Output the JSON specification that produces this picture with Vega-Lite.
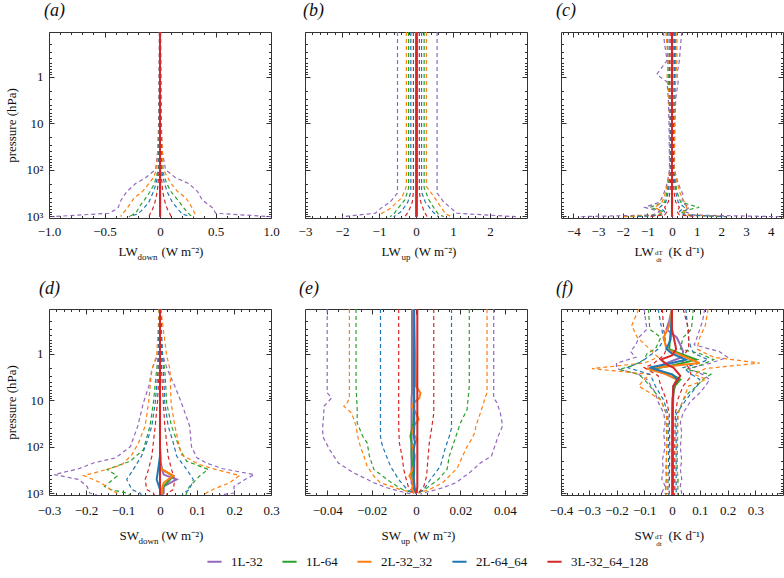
{
"$schema":"https://vega.github.io/schema/vega-lite/v6.json",
"padding":{"left":4,"top":1,"right":2,"bottom":2},
"config":{
 "font":"Liberation Serif",
 "view":{"stroke":"#333","strokeWidth":1},
 "axis":{"grid":false,"domain":false,"labelFont":"Liberation Serif","titleFont":"Liberation Serif","labelFontSize":13,"titleFontSize":13,"titleFontWeight":"normal","labelColor":"#111","titleColor":"#111","tickColor":"#333","tickWidth":1,"labelOverlap":false,"labelFlush":false,"titlePadding":0},
 "range":{"category":["#9467bd","#2ca02c","#ff7f0e","#1f77b4","#d62728"]},
 "legend":{"orient":"none","legendX":157,"legendY":521,"direction":"horizontal","symbolType":"stroke","symbolStrokeWidth":2,"symbolSize":200,"symbolDash":[],"labelFont":"Liberation Serif","labelFontSize":13,"labelColor":"#111","columnPadding":15,"labelOffset":8}
},
"datasets":{
"a":[
{"m":"1L-32","p":0.11,"l":-0.006,"u":0,"h":0.006},{"m":"1L-32","p":1,"l":-0.008,"u":0,"h":0.008},{"m":"1L-32","p":10,"l":-0.012,"u":0,"h":0.012},{"m":"1L-32","p":40,"l":-0.02,"u":0,"h":0.02},{"m":"1L-32","p":100,"l":-0.04,"u":0.002,"h":0.05},{"m":"1L-32","p":150,"l":-0.13,"u":0.002,"h":0.14},{"m":"1L-32","p":200,"l":-0.22,"u":0.002,"h":0.26},{"m":"1L-32","p":300,"l":-0.3,"u":0.002,"h":0.34},{"m":"1L-32","p":450,"l":-0.35,"u":0.002,"h":0.38},{"m":"1L-32","p":680,"l":-0.38,"u":0.002,"h":0.48},{"m":"1L-32","p":870,"l":-0.46,"u":0.002,"h":0.5},{"m":"1L-32","p":1030,"l":-0.97,"u":0.002,"h":1.0},
{"m":"1L-64","p":0.11,"l":-0.003,"u":0,"h":0.003},{"m":"1L-64","p":10,"l":-0.006,"u":0,"h":0.006},{"m":"1L-64","p":100,"l":-0.015,"u":0,"h":0.02},{"m":"1L-64","p":200,"l":-0.05,"u":0,"h":0.06},{"m":"1L-64","p":300,"l":-0.09,"u":0,"h":0.1},{"m":"1L-64","p":450,"l":-0.14,"u":0,"h":0.16},{"m":"1L-64","p":600,"l":-0.18,"u":0,"h":0.2},{"m":"1L-64","p":800,"l":-0.21,"u":0,"h":0.24},{"m":"1L-64","p":950,"l":-0.25,"u":0,"h":0.27},{"m":"1L-64","p":1030,"l":-0.28,"u":0,"h":0.3},
{"m":"2L-32_32","p":0.11,"l":-0.004,"u":0,"h":0.004},{"m":"2L-32_32","p":10,"l":-0.008,"u":0,"h":0.008},{"m":"2L-32_32","p":100,"l":-0.03,"u":0,"h":0.03},{"m":"2L-32_32","p":150,"l":-0.06,"u":0,"h":0.07},{"m":"2L-32_32","p":200,"l":-0.1,"u":0,"h":0.1},{"m":"2L-32_32","p":300,"l":-0.16,"u":0,"h":0.16},{"m":"2L-32_32","p":400,"l":-0.23,"u":0,"h":0.23},{"m":"2L-32_32","p":550,"l":-0.27,"u":0,"h":0.27},{"m":"2L-32_32","p":750,"l":-0.31,"u":0,"h":0.3},{"m":"2L-32_32","p":950,"l":-0.35,"u":0,"h":0.32},{"m":"2L-32_32","p":1030,"l":-0.35,"u":0,"h":0.3},
{"m":"2L-64_64","p":0.11,"l":-0.002,"u":0,"h":0.002},{"m":"2L-64_64","p":100,"l":-0.01,"u":0,"h":0.012},{"m":"2L-64_64","p":200,"l":-0.035,"u":0,"h":0.04},{"m":"2L-64_64","p":300,"l":-0.06,"u":0,"h":0.065},{"m":"2L-64_64","p":500,"l":-0.1,"u":0,"h":0.11},{"m":"2L-64_64","p":700,"l":-0.15,"u":0,"h":0.16},{"m":"2L-64_64","p":900,"l":-0.2,"u":0,"h":0.2},{"m":"2L-64_64","p":1030,"l":-0.28,"u":0,"h":0.27},
{"m":"3L-32_64_128","p":0.11,"l":-0.001,"u":0,"h":0.001},{"m":"3L-32_64_128","p":100,"l":-0.006,"u":0,"h":0.006},{"m":"3L-32_64_128","p":300,"l":-0.025,"u":0,"h":0.025},{"m":"3L-32_64_128","p":500,"l":-0.045,"u":0,"h":0.045},{"m":"3L-32_64_128","p":700,"l":-0.065,"u":0,"h":0.065},{"m":"3L-32_64_128","p":900,"l":-0.09,"u":0,"h":0.09},{"m":"3L-32_64_128","p":1030,"l":-0.1,"u":0,"h":0.1}
],
"b":[
{"m":"1L-32","p":0.11,"l":-0.5,"u":0,"h":0.57},{"m":"1L-32","p":320,"l":-0.5,"u":0,"h":0.57},{"m":"1L-32","p":500,"l":-0.7,"u":0,"h":0.75},{"m":"1L-32","p":700,"l":-0.97,"u":0,"h":0.97},{"m":"1L-32","p":870,"l":-1.1,"u":0,"h":1.1},{"m":"1L-32","p":1030,"l":-2.0,"u":0,"h":2.7},
{"m":"1L-64","p":0.11,"l":-0.2,"u":0.01,"h":0.22},{"m":"1L-64","p":250,"l":-0.2,"u":0.01,"h":0.22},{"m":"1L-64","p":450,"l":-0.3,"u":0.01,"h":0.35},{"m":"1L-64","p":700,"l":-0.5,"u":0.01,"h":0.5},{"m":"1L-64","p":900,"l":-0.6,"u":0.01,"h":0.6},{"m":"1L-64","p":1030,"l":-0.7,"u":0.01,"h":0.75},
{"m":"2L-32_32","p":0.11,"l":-0.26,"u":0.01,"h":0.28},{"m":"2L-32_32","p":230,"l":-0.26,"u":0.01,"h":0.28},{"m":"2L-32_32","p":400,"l":-0.38,"u":0.01,"h":0.5},{"m":"2L-32_32","p":690,"l":-0.7,"u":0.01,"h":0.7},{"m":"2L-32_32","p":900,"l":-0.95,"u":0.01,"h":0.8},{"m":"2L-32_32","p":1030,"l":-1.0,"u":0.01,"h":0.95},
{"m":"2L-64_64","p":0.11,"l":-0.14,"u":0.01,"h":0.15},{"m":"2L-64_64","p":300,"l":-0.14,"u":0.01,"h":0.15},{"m":"2L-64_64","p":500,"l":-0.22,"u":0.01,"h":0.25},{"m":"2L-64_64","p":800,"l":-0.4,"u":0.01,"h":0.45},{"m":"2L-64_64","p":1030,"l":-0.6,"u":0.01,"h":0.6},
{"m":"3L-32_64_128","p":0.11,"l":-0.07,"u":0.02,"h":0.09},{"m":"3L-32_64_128","p":300,"l":-0.07,"u":0.02,"h":0.09},{"m":"3L-32_64_128","p":500,"l":-0.1,"u":0.02,"h":0.13},{"m":"3L-32_64_128","p":800,"l":-0.2,"u":0.02,"h":0.22},{"m":"3L-32_64_128","p":1030,"l":-0.3,"u":0.02,"h":0.3}
],
"c":[
{"m":"1L-32","p":0.11,"l":-0.35,"u":0,"h":0.4},{"m":"1L-32","p":0.2,"l":-0.3,"u":0,"h":0.35},{"m":"1L-32","p":0.45,"l":-0.2,"u":0.01,"h":0.3},{"m":"1L-32","p":0.9,"l":-0.62,"u":0,"h":0.2},{"m":"1L-32","p":1.3,"l":-0.2,"u":0,"h":0.25},{"m":"1L-32","p":3,"l":-0.15,"u":0,"h":0.15},{"m":"1L-32","p":10,"l":-0.12,"u":0,"h":0.12},{"m":"1L-32","p":100,"l":-0.1,"u":0,"h":0.1},{"m":"1L-32","p":200,"l":-0.2,"u":0,"h":0.25},{"m":"1L-32","p":350,"l":-0.35,"u":0,"h":0.45},{"m":"1L-32","p":500,"l":-0.5,"u":0.01,"h":0.4},{"m":"1L-32","p":650,"l":-1.1,"u":0,"h":0.7},{"m":"1L-32","p":800,"l":-0.5,"u":0,"h":0.5},{"m":"1L-32","p":950,"l":-0.8,"u":0,"h":0.9},{"m":"1L-32","p":1030,"l":-3.8,"u":0,"h":4.3},
{"m":"1L-64","p":0.11,"l":-0.2,"u":0,"h":0.15},{"m":"1L-64","p":1,"l":-0.15,"u":0,"h":0.15},{"m":"1L-64","p":10,"l":-0.08,"u":0,"h":0.08},{"m":"1L-64","p":100,"l":-0.07,"u":0,"h":0.07},{"m":"1L-64","p":300,"l":-0.2,"u":0,"h":0.2},{"m":"1L-64","p":500,"l":-0.3,"u":0,"h":0.35},{"m":"1L-64","p":650,"l":-0.9,"u":0,"h":1.1},{"m":"1L-64","p":800,"l":-0.35,"u":0,"h":0.35},{"m":"1L-64","p":950,"l":-0.5,"u":0,"h":0.6},{"m":"1L-64","p":1030,"l":-1.8,"u":0,"h":2.0},
{"m":"2L-32_32","p":0.11,"l":-0.25,"u":0,"h":0.2},{"m":"2L-32_32","p":0.45,"l":-0.15,"u":0,"h":0.2},{"m":"2L-32_32","p":1,"l":-0.2,"u":0,"h":0.15},{"m":"2L-32_32","p":3,"l":-0.12,"u":0,"h":0.12},{"m":"2L-32_32","p":10,"l":-0.1,"u":0,"h":0.1},{"m":"2L-32_32","p":100,"l":-0.08,"u":0,"h":0.08},{"m":"2L-32_32","p":300,"l":-0.25,"u":0,"h":0.3},{"m":"2L-32_32","p":500,"l":-0.4,"u":0,"h":0.5},{"m":"2L-32_32","p":650,"l":-0.7,"u":0,"h":0.6},{"m":"2L-32_32","p":800,"l":-0.4,"u":0,"h":0.45},{"m":"2L-32_32","p":950,"l":-0.6,"u":0,"h":0.7},{"m":"2L-32_32","p":1030,"l":-2.0,"u":0,"h":2.2},
{"m":"2L-64_64","p":0.11,"l":-0.12,"u":0,"h":0.1},{"m":"2L-64_64","p":1,"l":-0.1,"u":0,"h":0.1},{"m":"2L-64_64","p":10,"l":-0.06,"u":0,"h":0.06},{"m":"2L-64_64","p":100,"l":-0.05,"u":0,"h":0.05},{"m":"2L-64_64","p":300,"l":-0.15,"u":0,"h":0.15},{"m":"2L-64_64","p":500,"l":-0.25,"u":0,"h":0.25},{"m":"2L-64_64","p":650,"l":-0.5,"u":0,"h":0.5},{"m":"2L-64_64","p":800,"l":-0.3,"u":0,"h":0.3},{"m":"2L-64_64","p":950,"l":-0.4,"u":0,"h":0.5},{"m":"2L-64_64","p":1030,"l":-1.5,"u":0,"h":2.2},
{"m":"3L-32_64_128","p":0.11,"l":-0.05,"u":0,"h":0.05},{"m":"3L-32_64_128","p":1,"l":-0.04,"u":0,"h":0.04},{"m":"3L-32_64_128","p":10,"l":-0.03,"u":0,"h":0.03},{"m":"3L-32_64_128","p":100,"l":-0.03,"u":0,"h":0.03},{"m":"3L-32_64_128","p":300,"l":-0.08,"u":0,"h":0.08},{"m":"3L-32_64_128","p":500,"l":-0.15,"u":0,"h":0.15},{"m":"3L-32_64_128","p":650,"l":-0.3,"u":0,"h":0.3},{"m":"3L-32_64_128","p":800,"l":-0.2,"u":0,"h":0.2},{"m":"3L-32_64_128","p":950,"l":-0.3,"u":0,"h":0.3},{"m":"3L-32_64_128","p":1030,"l":-1.0,"u":0.02,"h":1.0}
],
"d":[
{"m":"1L-32","p":0.11,"l":-0.002,"u":0,"h":0.002},{"m":"1L-32","p":0.5,"l":-0.003,"u":0,"h":0.003},{"m":"1L-32","p":1,"l":-0.005,"u":0,"h":0.006},{"m":"1L-32","p":2.2,"l":-0.022,"u":0,"h":0.02},{"m":"1L-32","p":5,"l":-0.03,"u":0,"h":0.04},{"m":"1L-32","p":11.5,"l":-0.045,"u":0,"h":0.058},{"m":"1L-32","p":36,"l":-0.06,"u":0,"h":0.08},{"m":"1L-32","p":100,"l":-0.08,"u":0,"h":0.085},{"m":"1L-32","p":175,"l":-0.12,"u":0.002,"h":0.1},{"m":"1L-32","p":225,"l":-0.18,"u":0.002,"h":0.125},{"m":"1L-32","p":300,"l":-0.22,"u":0.005,"h":0.17},{"m":"1L-32","p":400,"l":-0.286,"u":0.01,"h":0.255},{"m":"1L-32","p":510,"l":-0.22,"u":0.045,"h":0.23},{"m":"1L-32","p":720,"l":-0.197,"u":0.01,"h":0.2},{"m":"1L-32","p":1000,"l":-0.19,"u":0.01,"h":0.2},{"m":"1L-32","p":1100,"l":-0.17,"u":0.005,"h":0.16},
{"m":"1L-64","p":0.11,"l":-0.002,"u":0,"h":0.002},{"m":"1L-64","p":1,"l":-0.004,"u":0,"h":0.005},{"m":"1L-64","p":2.2,"l":-0.009,"u":0,"h":0.013},{"m":"1L-64","p":11.5,"l":-0.018,"u":0,"h":0.018},{"m":"1L-64","p":36,"l":-0.027,"u":0,"h":0.031},{"m":"1L-64","p":116,"l":-0.045,"u":0,"h":0.054},{"m":"1L-64","p":206,"l":-0.08,"u":0,"h":0.072},{"m":"1L-64","p":310,"l":-0.143,"u":0.005,"h":0.13},{"m":"1L-64","p":430,"l":-0.116,"u":0.036,"h":0.107},{"m":"1L-64","p":720,"l":-0.15,"u":0.01,"h":0.08},{"m":"1L-64","p":840,"l":-0.134,"u":0.005,"h":0.075},{"m":"1L-64","p":1000,"l":-0.09,"u":0.005,"h":0.072},{"m":"1L-64","p":1100,"l":-0.08,"u":0,"h":0.07},
{"m":"2L-32_32","p":0.11,"l":-0.002,"u":0,"h":0.002},{"m":"2L-32_32","p":1.1,"l":-0.009,"u":0,"h":0.018},{"m":"2L-32_32","p":2.2,"l":-0.022,"u":0,"h":0.027},{"m":"2L-32_32","p":11.5,"l":-0.031,"u":0,"h":0.03},{"m":"2L-32_32","p":36,"l":-0.04,"u":0,"h":0.04},{"m":"2L-32_32","p":83,"l":-0.058,"u":0,"h":0.05},{"m":"2L-32_32","p":150,"l":-0.076,"u":0,"h":0.058},{"m":"2L-32_32","p":245,"l":-0.103,"u":0,"h":0.107},{"m":"2L-32_32","p":310,"l":-0.143,"u":0.005,"h":0.15},{"m":"2L-32_32","p":420,"l":-0.206,"u":0.036,"h":0.215},{"m":"2L-32_32","p":600,"l":-0.16,"u":0.01,"h":0.188},{"m":"2L-32_32","p":840,"l":-0.134,"u":0.005,"h":0.143},{"m":"2L-32_32","p":1000,"l":-0.116,"u":0.005,"h":0.125},{"m":"2L-32_32","p":1100,"l":-0.11,"u":0,"h":0.12},
{"m":"2L-64_64","p":0.11,"l":-0.001,"u":0,"h":0.001},{"m":"2L-64_64","p":2.2,"l":-0.005,"u":0,"h":0.009},{"m":"2L-64_64","p":11.5,"l":-0.013,"u":0,"h":0.013},{"m":"2L-64_64","p":36,"l":-0.022,"u":0,"h":0.022},{"m":"2L-64_64","p":83,"l":-0.036,"u":0,"h":0.036},{"m":"2L-64_64","p":160,"l":-0.05,"u":0,"h":0.045},{"m":"2L-64_64","p":310,"l":-0.072,"u":-0.005,"h":0.072},{"m":"2L-64_64","p":510,"l":-0.09,"u":-0.009,"h":0.09},{"m":"2L-64_64","p":840,"l":-0.076,"u":0,"h":0.08},{"m":"2L-64_64","p":1000,"l":-0.054,"u":0,"h":0.063},{"m":"2L-64_64","p":1100,"l":-0.05,"u":0,"h":0.06},
{"m":"3L-32_64_128","p":0.11,"l":-0.001,"u":0,"h":0.001},{"m":"3L-32_64_128","p":2.2,"l":-0.002,"u":0,"h":0.004},{"m":"3L-32_64_128","p":11.5,"l":-0.007,"u":0,"h":0.009},{"m":"3L-32_64_128","p":36,"l":-0.013,"u":0,"h":0.013},{"m":"3L-32_64_128","p":83,"l":-0.018,"u":0,"h":0.018},{"m":"3L-32_64_128","p":160,"l":-0.022,"u":0,"h":0.022},{"m":"3L-32_64_128","p":310,"l":-0.031,"u":0,"h":0.031},{"m":"3L-32_64_128","p":510,"l":-0.04,"u":0,"h":0.04},{"m":"3L-32_64_128","p":840,"l":-0.036,"u":0,"h":0.036},{"m":"3L-32_64_128","p":1000,"l":-0.018,"u":0,"h":0.02},{"m":"3L-32_64_128","p":1100,"l":-0.015,"u":0,"h":0.018}
],
"e":[
{"m":"1L-32","p":0.11,"l":-0.04,"u":-0.0018,"h":0.035},{"m":"1L-32","p":7,"l":-0.04,"u":-0.0018,"h":0.035},{"m":"1L-32","p":9,"l":-0.038,"u":-0.002,"h":0.035},{"m":"1L-32","p":11.5,"l":-0.04,"u":-0.002,"h":0.0365},{"m":"1L-32","p":13.6,"l":-0.0415,"u":-0.002,"h":0.037},{"m":"1L-32","p":19,"l":-0.0415,"u":-0.002,"h":0.038},{"m":"1L-32","p":36,"l":-0.042,"u":-0.002,"h":0.039},{"m":"1L-32","p":60,"l":-0.042,"u":-0.002,"h":0.037},{"m":"1L-32","p":115,"l":-0.039,"u":-0.002,"h":0.035},{"m":"1L-32","p":160,"l":-0.037,"u":-0.002,"h":0.034},{"m":"1L-32","p":225,"l":-0.035,"u":-0.002,"h":0.029},{"m":"1L-32","p":370,"l":-0.028,"u":-0.002,"h":0.024},{"m":"1L-32","p":430,"l":-0.025,"u":-0.002,"h":0.022},{"m":"1L-32","p":600,"l":-0.019,"u":-0.002,"h":0.018},{"m":"1L-32","p":770,"l":-0.013,"u":-0.001,"h":0.012},{"m":"1L-32","p":950,"l":-0.006,"u":0,"h":0.005},{"m":"1L-32","p":1050,"l":-0.002,"u":0,"h":0.002},
{"m":"1L-64","p":0.11,"l":-0.027,"u":-0.001,"h":0.024},{"m":"1L-64","p":5,"l":-0.027,"u":-0.001,"h":0.024},{"m":"1L-64","p":16,"l":-0.0265,"u":-0.001,"h":0.023},{"m":"1L-64","p":31,"l":-0.0265,"u":-0.0012,"h":0.02},{"m":"1L-64","p":60,"l":-0.024,"u":-0.0025,"h":0.018},{"m":"1L-64","p":83,"l":-0.022,"u":-0.002,"h":0.017},{"m":"1L-64","p":160,"l":-0.021,"u":-0.002,"h":0.015},{"m":"1L-64","p":310,"l":-0.019,"u":-0.0015,"h":0.014},{"m":"1L-64","p":510,"l":-0.013,"u":-0.001,"h":0.01},{"m":"1L-64","p":600,"l":-0.011,"u":-0.001,"h":0.008},{"m":"1L-64","p":840,"l":-0.006,"u":-0.001,"h":0.004},{"m":"1L-64","p":1000,"l":-0.001,"u":0,"h":0.001},
{"m":"2L-32_32","p":0.11,"l":-0.03,"u":-0.001,"h":0.032},{"m":"2L-32_32","p":5,"l":-0.03,"u":0,"h":0.032},{"m":"2L-32_32","p":7,"l":-0.03,"u":0.002,"h":0.032},{"m":"2L-32_32","p":9,"l":-0.03,"u":0.0015,"h":0.031},{"m":"2L-32_32","p":11.5,"l":-0.031,"u":-0.001,"h":0.0305},{"m":"2L-32_32","p":13.5,"l":-0.0325,"u":-0.002,"h":0.03},{"m":"2L-32_32","p":19,"l":-0.029,"u":0,"h":0.029},{"m":"2L-32_32","p":26,"l":-0.028,"u":0.0012,"h":0.028},{"m":"2L-32_32","p":36,"l":-0.027,"u":-0.001,"h":0.027},{"m":"2L-32_32","p":50,"l":-0.0265,"u":-0.0015,"h":0.0265},{"m":"2L-32_32","p":70,"l":-0.026,"u":0.0005,"h":0.025},{"m":"2L-32_32","p":100,"l":-0.025,"u":-0.0015,"h":0.023},{"m":"2L-32_32","p":160,"l":-0.0235,"u":-0.0005,"h":0.021},{"m":"2L-32_32","p":265,"l":-0.022,"u":-0.001,"h":0.019},{"m":"2L-32_32","p":310,"l":-0.021,"u":-0.0015,"h":0.018},{"m":"2L-32_32","p":430,"l":-0.019,"u":-0.003,"h":0.015},{"m":"2L-32_32","p":600,"l":-0.016,"u":-0.001,"h":0.012},{"m":"2L-32_32","p":840,"l":-0.007,"u":-0.002,"h":0.006},{"m":"2L-32_32","p":1000,"l":-0.001,"u":0,"h":0.001},
{"m":"2L-64_64","p":0.11,"l":-0.016,"u":-0.0008,"h":0.016},{"m":"2L-64_64","p":40,"l":-0.016,"u":-0.0008,"h":0.016},{"m":"2L-64_64","p":60,"l":-0.016,"u":-0.001,"h":0.015},{"m":"2L-64_64","p":83,"l":-0.0155,"u":-0.0005,"h":0.014},{"m":"2L-64_64","p":115,"l":-0.0145,"u":-0.001,"h":0.013},{"m":"2L-64_64","p":265,"l":-0.0115,"u":-0.0008,"h":0.011},{"m":"2L-64_64","p":510,"l":-0.0078,"u":-0.001,"h":0.0065},{"m":"2L-64_64","p":840,"l":-0.004,"u":-0.0005,"h":0.0035},{"m":"2L-64_64","p":1000,"l":-0.001,"u":0,"h":0.001},
{"m":"3L-32_64_128","p":0.11,"l":-0.0078,"u":0.0006,"h":0.008},{"m":"3L-32_64_128","p":19,"l":-0.0078,"u":0.0006,"h":0.008},{"m":"3L-32_64_128","p":36,"l":-0.0078,"u":0.0006,"h":0.0072},{"m":"3L-32_64_128","p":83,"l":-0.0075,"u":0.0006,"h":0.006},{"m":"3L-32_64_128","p":160,"l":-0.0063,"u":0.0006,"h":0.0055},{"m":"3L-32_64_128","p":310,"l":-0.0055,"u":0.0006,"h":0.005},{"m":"3L-32_64_128","p":430,"l":-0.0048,"u":0.0006,"h":0.0048},{"m":"3L-32_64_128","p":720,"l":-0.0035,"u":0.0006,"h":0.0035},{"m":"3L-32_64_128","p":1000,"l":-0.001,"u":0.0003,"h":0.001}
],
"f":[
{"m":"1L-32","p":0.11,"l":-0.1,"u":0,"h":0.118},{"m":"1L-32","p":0.2,"l":-0.095,"u":-0.01,"h":0.11},{"m":"1L-32","p":0.3,"l":-0.09,"u":-0.02,"h":0.1},{"m":"1L-32","p":0.45,"l":-0.12,"u":0.017,"h":0.09},{"m":"1L-32","p":0.65,"l":-0.13,"u":0.03,"h":0.08},{"m":"1L-32","p":0.9,"l":-0.15,"u":0.04,"h":0.17},{"m":"1L-32","p":1.2,"l":-0.13,"u":0.035,"h":0.2},{"m":"1L-32","p":1.6,"l":-0.2,"u":-0.02,"h":0.14},{"m":"1L-32","p":2.1,"l":-0.2,"u":-0.067,"h":0.06},{"m":"1L-32","p":2.8,"l":-0.12,"u":-0.02,"h":0.11},{"m":"1L-32","p":3.6,"l":-0.09,"u":0.017,"h":0.136},{"m":"1L-32","p":5,"l":-0.075,"u":0.01,"h":0.12},{"m":"1L-32","p":7,"l":-0.06,"u":0.005,"h":0.1},{"m":"1L-32","p":11,"l":-0.05,"u":0.004,"h":0.065},{"m":"1L-32","p":19,"l":-0.03,"u":0.003,"h":0.04},{"m":"1L-32","p":30,"l":-0.025,"u":0.003,"h":0.03},{"m":"1L-32","p":50,"l":-0.03,"u":0.002,"h":0.035},{"m":"1L-32","p":100,"l":-0.025,"u":0.002,"h":0.03},{"m":"1L-32","p":200,"l":-0.035,"u":0.002,"h":0.035},{"m":"1L-32","p":300,"l":-0.031,"u":0.002,"h":0.03},{"m":"1L-32","p":500,"l":-0.037,"u":0.002,"h":0.035},{"m":"1L-32","p":700,"l":-0.025,"u":0.002,"h":0.03},{"m":"1L-32","p":1000,"l":-0.037,"u":0.002,"h":0.035},{"m":"1L-32","p":1100,"l":-0.03,"u":0.002,"h":0.03},
{"m":"1L-64","p":0.11,"l":-0.085,"u":0,"h":0.077},{"m":"1L-64","p":0.3,"l":-0.08,"u":-0.003,"h":0.07},{"m":"1L-64","p":0.45,"l":-0.04,"u":-0.007,"h":0.04},{"m":"1L-64","p":0.8,"l":-0.06,"u":-0.01,"h":0.03},{"m":"1L-64","p":1.0,"l":-0.09,"u":0.03,"h":0.1},{"m":"1L-64","p":1.35,"l":-0.1,"u":0.088,"h":0.15},{"m":"1L-64","p":1.8,"l":-0.14,"u":0,"h":0.1},{"m":"1L-64","p":2.2,"l":-0.19,"u":-0.08,"h":0.05},{"m":"1L-64","p":2.8,"l":-0.12,"u":0,"h":0.14},{"m":"1L-64","p":3.6,"l":-0.1,"u":0.03,"h":0.11},{"m":"1L-64","p":5,"l":-0.08,"u":0.01,"h":0.09},{"m":"1L-64","p":7,"l":-0.06,"u":0.005,"h":0.06},{"m":"1L-64","p":10,"l":-0.04,"u":0.003,"h":0.04},{"m":"1L-64","p":20,"l":-0.02,"u":0.002,"h":0.02},{"m":"1L-64","p":50,"l":-0.02,"u":0.002,"h":0.02},{"m":"1L-64","p":100,"l":-0.018,"u":0.002,"h":0.02},{"m":"1L-64","p":300,"l":-0.022,"u":0.002,"h":0.018},{"m":"1L-64","p":500,"l":-0.02,"u":0.002,"h":0.022},{"m":"1L-64","p":1000,"l":-0.025,"u":0.002,"h":0.02},{"m":"1L-64","p":1100,"l":-0.02,"u":0.002,"h":0.02},
{"m":"2L-32_32","p":0.11,"l":-0.12,"u":0,"h":0.13},{"m":"2L-32_32","p":0.25,"l":-0.145,"u":-0.01,"h":0.12},{"m":"2L-32_32","p":0.45,"l":-0.125,"u":-0.03,"h":0.1},{"m":"2L-32_32","p":0.8,"l":-0.08,"u":-0.02,"h":0.09},{"m":"2L-32_32","p":1.2,"l":-0.05,"u":0.05,"h":0.15},{"m":"2L-32_32","p":1.6,"l":-0.1,"u":0.1,"h":0.316},{"m":"2L-32_32","p":2.1,"l":-0.288,"u":-0.09,"h":0.12},{"m":"2L-32_32","p":2.8,"l":-0.08,"u":-0.02,"h":0.08},{"m":"2L-32_32","p":3.6,"l":-0.1,"u":0.017,"h":0.124},{"m":"2L-32_32","p":5,"l":-0.12,"u":0.005,"h":0.06},{"m":"2L-32_32","p":7,"l":-0.08,"u":0.004,"h":0.05},{"m":"2L-32_32","p":10,"l":-0.04,"u":0.003,"h":0.04},{"m":"2L-32_32","p":20,"l":-0.02,"u":0.002,"h":0.022},{"m":"2L-32_32","p":50,"l":-0.018,"u":0.002,"h":0.02},{"m":"2L-32_32","p":100,"l":-0.02,"u":0.002,"h":0.018},{"m":"2L-32_32","p":300,"l":-0.02,"u":0.002,"h":0.02},{"m":"2L-32_32","p":1000,"l":-0.022,"u":0.002,"h":0.02},{"m":"2L-32_32","p":1100,"l":-0.02,"u":0.002,"h":0.02},
{"m":"2L-64_64","p":0.11,"l":-0.05,"u":0,"h":0.05},{"m":"2L-64_64","p":0.5,"l":-0.03,"u":-0.005,"h":0.06},{"m":"2L-64_64","p":0.8,"l":-0.05,"u":-0.02,"h":0.07},{"m":"2L-64_64","p":1.0,"l":-0.07,"u":0,"h":0.08},{"m":"2L-64_64","p":1.35,"l":-0.1,"u":0.05,"h":0.13},{"m":"2L-64_64","p":1.6,"l":-0.12,"u":0,"h":0.1},{"m":"2L-64_64","p":2.0,"l":-0.16,"u":-0.08,"h":0.04},{"m":"2L-64_64","p":2.8,"l":-0.08,"u":0,"h":0.07},{"m":"2L-64_64","p":3.6,"l":-0.07,"u":0.02,"h":0.1},{"m":"2L-64_64","p":5,"l":-0.06,"u":0.005,"h":0.09},{"m":"2L-64_64","p":10,"l":-0.03,"u":0.003,"h":0.05},{"m":"2L-64_64","p":20,"l":-0.015,"u":0.002,"h":0.015},{"m":"2L-64_64","p":100,"l":-0.012,"u":0.002,"h":0.015},{"m":"2L-64_64","p":1000,"l":-0.015,"u":0.002,"h":0.015},{"m":"2L-64_64","p":1100,"l":-0.012,"u":0.002,"h":0.012},
{"m":"3L-32_64_128","p":0.11,"l":-0.035,"u":0,"h":0.04},{"m":"3L-32_64_128","p":0.3,"l":-0.03,"u":0,"h":0.06},{"m":"3L-32_64_128","p":0.8,"l":-0.02,"u":0.015,"h":0.06},{"m":"3L-32_64_128","p":1.1,"l":-0.03,"u":0,"h":0.04},{"m":"3L-32_64_128","p":1.35,"l":-0.05,"u":-0.04,"h":0.03},{"m":"3L-32_64_128","p":1.7,"l":-0.07,"u":-0.02,"h":0.05},{"m":"3L-32_64_128","p":2.0,"l":-0.1,"u":0.005,"h":0.06},{"m":"3L-32_64_128","p":3.0,"l":-0.05,"u":0.03,"h":0.07},{"m":"3L-32_64_128","p":5,"l":-0.04,"u":0.005,"h":0.04},{"m":"3L-32_64_128","p":10,"l":-0.02,"u":0.002,"h":0.02},{"m":"3L-32_64_128","p":20,"l":-0.01,"u":0.002,"h":0.012},{"m":"3L-32_64_128","p":100,"l":-0.008,"u":0.002,"h":0.01},{"m":"3L-32_64_128","p":1000,"l":-0.01,"u":0.002,"h":0.01},{"m":"3L-32_64_128","p":1100,"l":-0.008,"u":0.002,"h":0.008}
]
},
"columns":3,
"spacing":{"row":91,"column":34},
"bounds":"flush",
"resolve":{"scale":{"color":"shared"}},
"concat":[
{"width":222,"height":186,"data":{"name":"a"},
 "title":{"text":"(a)","anchor":"start","frame":"group","dx":-5,"offset":-2,"baseline":"alphabetic","fontSize":18,"fontStyle":"italic","fontWeight":"normal","font":"Liberation Serif","color":"#111"},
 "layer":[
  {"mark":{"type":"line","strokeDash":[4,3],"strokeWidth":1.2,"clip":true},
   "encoding":{
    "x":{"field":"l","type":"quantitative","scale":{"domain":[-1,1],"nice":false,"zero":false},"axis":{"orient":"bottom","values":[-1,-0.5,0,0.5,1],"tickSize":-5,"labelPadding":12,"labelExpr":"datum.value == 0 ? '0' : format(datum.value, '.1f')","title":"LW","titleX":69,"titleY":37,"titleAlign":"left","titleBaseline":"alphabetic"}},
    "y":{"field":"p","type":"quantitative","scale":{"type":"log","domain":[0.11,1100],"reverse":true,"nice":false},"axis":{"orient":"left","values":[1,10,100,1000],"tickSize":-5,"labelPadding":11,"labelExpr":"datum.value == 1 ? '1' : datum.value == 10 ? '10' : datum.value == 100 ? '10²' : '10³'","title":"pressure (hPa)","titleX":-38,"titleY":93,"titleAngle":270,"titleAlign":"center","titleBaseline":"middle"}},
    "color":{"field":"m","type":"nominal","title":null},
    "order":{"field":"p","type":"quantitative"}}},
  {"mark":{"type":"line","strokeDash":[4,3],"strokeWidth":1.2,"clip":true},
   "encoding":{
    "x":{"field":"h","type":"quantitative","scale":{"domain":[-1,1],"nice":false,"zero":false},"axis":{"orient":"top","values":[-1,-0.5,0,0.5,1],"tickSize":-5,"labels":false,"title":"down","titleFontSize":9,"titleX":88,"titleY":227,"titleAlign":"left","titleBaseline":"alphabetic"}},
    "y":{"field":"p","type":"quantitative","scale":{"type":"log","domain":[0.11,1100],"reverse":true,"nice":false},"axis":{"orient":"right","values":[1,10,100,1000],"tickSize":-5,"labels":false,"title":"(W m⁻²)","titleAngle":0,"titleX":-110,"titleY":223,"titleAlign":"left","titleBaseline":"alphabetic"}},
    "color":{"field":"m","type":"nominal","title":null},
    "order":{"field":"p","type":"quantitative"}}},
  {"mark":{"type":"line","strokeWidth":2,"clip":true},
   "encoding":{
    "x":{"field":"u","type":"quantitative","scale":{"domain":[-1,1],"nice":false,"zero":false},"axis":{"orient":"bottom","values":[-0.9,-0.8,-0.7,-0.6,-0.4,-0.3,-0.2,-0.1,0.1,0.2,0.3,0.4,0.6,0.7,0.8,0.9],"tickSize":-2.5,"labels":false,"title":null}},
    "y":{"field":"p","type":"quantitative","scale":{"type":"log","domain":[0.11,1100],"reverse":true,"nice":false},"axis":{"orient":"left","values":[0.2,0.3,0.4,0.5,0.6,0.7,0.8,0.9,2,3,4,5,6,7,8,9,20,30,40,50,60,70,80,90,200,300,400,500,600,700,800,900],"tickSize":-2.5,"labels":false,"title":null}},
    "color":{"field":"m","type":"nominal","title":null},
    "order":{"field":"p","type":"quantitative"}}},
  {"mark":{"type":"point","opacity":0,"clip":true},
   "encoding":{
    "x":{"field":"u","type":"quantitative","scale":{"domain":[-1,1],"nice":false,"zero":false},"axis":{"orient":"top","values":[-0.9,-0.8,-0.7,-0.6,-0.4,-0.3,-0.2,-0.1,0.1,0.2,0.3,0.4,0.6,0.7,0.8,0.9],"tickSize":-2.5,"labels":false,"title":null}},
    "y":{"field":"p","type":"quantitative","scale":{"type":"log","domain":[0.11,1100],"reverse":true,"nice":false},"axis":{"orient":"right","values":[0.2,0.3,0.4,0.5,0.6,0.7,0.8,0.9,2,3,4,5,6,7,8,9,20,30,40,50,60,70,80,90,200,300,400,500,600,700,800,900],"tickSize":-2.5,"labels":false,"title":null}}}}
 ],
 "resolve":{"axis":{"x":"independent","y":"independent"}}},
{"width":222,"height":186,"data":{"name":"b"},
 "title":{"text":"(b)","anchor":"start","frame":"group","dx":-2,"offset":-2,"baseline":"alphabetic","fontSize":18,"fontStyle":"italic","fontWeight":"normal","font":"Liberation Serif","color":"#111"},
 "layer":[
  {"mark":{"type":"line","strokeDash":[4,3],"strokeWidth":1.2,"clip":true},
   "encoding":{
    "x":{"field":"l","type":"quantitative","scale":{"domain":[-3,3],"nice":false,"zero":false},"axis":{"orient":"bottom","values":[-3,-2,-1,0,1,2],"tickSize":-5,"labelPadding":12,"labelExpr":"format(datum.value, 'd')","title":"LW","titleX":76,"titleY":37,"titleAlign":"left","titleBaseline":"alphabetic"}},
    "y":{"field":"p","type":"quantitative","scale":{"type":"log","domain":[0.11,1100],"reverse":true,"nice":false},"axis":{"orient":"left","values":[1,10,100,1000],"tickSize":-5,"labels":false,"title":null}},
    "color":{"field":"m","type":"nominal","title":null},
    "order":{"field":"p","type":"quantitative"}}},
  {"mark":{"type":"line","strokeDash":[4,3],"strokeWidth":1.2,"clip":true},
   "encoding":{
    "x":{"field":"h","type":"quantitative","scale":{"domain":[-3,3],"nice":false,"zero":false},"axis":{"orient":"top","values":[-3,-2,-1,0,1,2,3],"tickSize":-5,"labels":false,"title":"up","titleFontSize":9,"titleX":96,"titleY":227,"titleAlign":"left","titleBaseline":"alphabetic"}},
    "y":{"field":"p","type":"quantitative","scale":{"type":"log","domain":[0.11,1100],"reverse":true,"nice":false},"axis":{"orient":"right","values":[1,10,100,1000],"tickSize":-5,"labels":false,"title":"(W m⁻²)","titleAngle":0,"titleX":-113,"titleY":223,"titleAlign":"left","titleBaseline":"alphabetic"}},
    "color":{"field":"m","type":"nominal","title":null},
    "order":{"field":"p","type":"quantitative"}}},
  {"mark":{"type":"line","strokeWidth":2,"clip":true},
   "encoding":{
    "x":{"field":"u","type":"quantitative","scale":{"domain":[-3,3],"nice":false,"zero":false},"axis":{"orient":"bottom","values":[-2.8,-2.6,-2.4,-2.2,-1.8,-1.6,-1.4,-1.2,-0.8,-0.6,-0.4,-0.2,0.2,0.4,0.6,0.8,1.2,1.4,1.6,1.8,2.2,2.4,2.6,2.8],"tickSize":-2.5,"labels":false,"title":null}},
    "y":{"field":"p","type":"quantitative","scale":{"type":"log","domain":[0.11,1100],"reverse":true,"nice":false},"axis":{"orient":"left","values":[0.2,0.3,0.4,0.5,0.6,0.7,0.8,0.9,2,3,4,5,6,7,8,9,20,30,40,50,60,70,80,90,200,300,400,500,600,700,800,900],"tickSize":-2.5,"labels":false,"title":null}},
    "color":{"field":"m","type":"nominal","title":null},
    "order":{"field":"p","type":"quantitative"}}},
  {"mark":{"type":"point","opacity":0,"clip":true},
   "encoding":{
    "x":{"field":"u","type":"quantitative","scale":{"domain":[-3,3],"nice":false,"zero":false},"axis":{"orient":"top","values":[-2.8,-2.6,-2.4,-2.2,-1.8,-1.6,-1.4,-1.2,-0.8,-0.6,-0.4,-0.2,0.2,0.4,0.6,0.8,1.2,1.4,1.6,1.8,2.2,2.4,2.6,2.8],"tickSize":-2.5,"labels":false,"title":null}},
    "y":{"field":"p","type":"quantitative","scale":{"type":"log","domain":[0.11,1100],"reverse":true,"nice":false},"axis":{"orient":"right","values":[0.2,0.3,0.4,0.5,0.6,0.7,0.8,0.9,2,3,4,5,6,7,8,9,20,30,40,50,60,70,80,90,200,300,400,500,600,700,800,900],"tickSize":-2.5,"labels":false,"title":null}}}}
 ],
 "resolve":{"axis":{"x":"independent","y":"independent"}}},
{"width":222,"height":186,"data":{"name":"c"},
 "title":{"text":"(c)","anchor":"start","frame":"group","dx":-5,"offset":-2,"baseline":"alphabetic","fontSize":18,"fontStyle":"italic","fontWeight":"normal","font":"Liberation Serif","color":"#111"},
 "layer":[
  {"mark":{"type":"line","strokeDash":[4,3],"strokeWidth":1.2,"clip":true},
   "encoding":{
    "x":{"field":"l","type":"quantitative","scale":{"domain":[-4.5,4.5],"nice":false,"zero":false},"axis":{"orient":"bottom","values":[-4,-3,-2,-1,0,1,2,3,4],"tickSize":-5,"labelPadding":12,"labelExpr":"format(datum.value, 'd')","title":"LW","titleX":73,"titleY":37,"titleAlign":"left","titleBaseline":"alphabetic"}},
    "y":{"field":"p","type":"quantitative","scale":{"type":"log","domain":[0.11,1100],"reverse":true,"nice":false},"axis":{"orient":"left","values":[1,10,100,1000],"tickSize":-5,"labels":false,"title":null}},
    "color":{"field":"m","type":"nominal","title":null},
    "order":{"field":"p","type":"quantitative"}}},
  {"mark":{"type":"line","strokeDash":[4,3],"strokeWidth":1.2,"clip":true},
   "encoding":{
    "x":{"field":"h","type":"quantitative","scale":{"domain":[-4.5,4.5],"nice":false,"zero":false},"axis":{"orient":"top","values":[-4,-3,-2,-1,0,1,2,3,4],"tickSize":-5,"labels":false,"title":["dT","dt"],"titleFontSize":7,"titleLineHeight":7,"titleX":97.5,"titleY":222,"titleAlign":"center","titleBaseline":"alphabetic"}},
    "y":{"field":"p","type":"quantitative","scale":{"type":"log","domain":[0.11,1100],"reverse":true,"nice":false},"axis":{"orient":"right","values":[1,10,100,1000],"tickSize":-5,"labels":false,"title":"(K d⁻¹)","titleAngle":0,"titleX":-115,"titleY":223,"titleAlign":"left","titleBaseline":"alphabetic"}},
    "color":{"field":"m","type":"nominal","title":null},
    "order":{"field":"p","type":"quantitative"}}},
  {"mark":{"type":"line","strokeWidth":2,"clip":true},
   "encoding":{
    "x":{"field":"u","type":"quantitative","scale":{"domain":[-4.5,4.5],"nice":false,"zero":false},"axis":{"orient":"bottom","values":[-4.4,-4.2,-3.8,-3.6,-3.4,-3.2,-2.8,-2.6,-2.4,-2.2,-1.8,-1.6,-1.4,-1.2,-0.8,-0.6,-0.4,-0.2,0.2,0.4,0.6,0.8,1.2,1.4,1.6,1.8,2.2,2.4,2.6,2.8,3.2,3.4,3.6,3.8,4.2,4.4],"tickSize":-2.5,"labels":false,"title":null}},
    "y":{"field":"p","type":"quantitative","scale":{"type":"log","domain":[0.11,1100],"reverse":true,"nice":false},"axis":{"orient":"left","values":[0.2,0.3,0.4,0.5,0.6,0.7,0.8,0.9,2,3,4,5,6,7,8,9,20,30,40,50,60,70,80,90,200,300,400,500,600,700,800,900],"tickSize":-2.5,"labels":false,"title":null}},
    "color":{"field":"m","type":"nominal","title":null},
    "order":{"field":"p","type":"quantitative"}}},
  {"mark":{"type":"point","opacity":0,"clip":true},
   "encoding":{
    "x":{"field":"u","type":"quantitative","scale":{"domain":[-4.5,4.5],"nice":false,"zero":false},"axis":{"orient":"top","values":[-4.4,-4.2,-3.8,-3.6,-3.4,-3.2,-2.8,-2.6,-2.4,-2.2,-1.8,-1.6,-1.4,-1.2,-0.8,-0.6,-0.4,-0.2,0.2,0.4,0.6,0.8,1.2,1.4,1.6,1.8,2.2,2.4,2.6,2.8,3.2,3.4,3.6,3.8,4.2,4.4],"tickSize":-2.5,"labels":false,"title":null}},
    "y":{"field":"p","type":"quantitative","scale":{"type":"log","domain":[0.11,1100],"reverse":true,"nice":false},"axis":{"orient":"right","values":[0.2,0.3,0.4,0.5,0.6,0.7,0.8,0.9,2,3,4,5,6,7,8,9,20,30,40,50,60,70,80,90,200,300,400,500,600,700,800,900],"tickSize":-2.5,"labels":false,"title":null}}}}
 ],
 "resolve":{"axis":{"x":"independent","y":"independent"}}},
{"width":222,"height":186,"data":{"name":"d"},
 "title":{"text":"(d)","anchor":"start","frame":"group","dx":-10,"offset":-3,"baseline":"alphabetic","fontSize":18,"fontStyle":"italic","fontWeight":"normal","font":"Liberation Serif","color":"#111"},
 "layer":[
  {"mark":{"type":"line","strokeDash":[4,3],"strokeWidth":1.2,"clip":true},
   "encoding":{
    "x":{"field":"l","type":"quantitative","scale":{"domain":[-0.3,0.3],"nice":false,"zero":false},"axis":{"orient":"bottom","values":[-0.3,-0.2,-0.1,0,0.1,0.2,0.3],"tickSize":-5,"labelPadding":14,"labelExpr":"datum.value == 0 ? '0' : format(datum.value, '.1f')","title":"SW","titleX":70,"titleY":44,"titleAlign":"left","titleBaseline":"alphabetic"}},
    "y":{"field":"p","type":"quantitative","scale":{"type":"log","domain":[0.11,1100],"reverse":true,"nice":false},"axis":{"orient":"left","values":[1,10,100,1000],"tickSize":-5,"labelPadding":11,"labelExpr":"datum.value == 1 ? '1' : datum.value == 10 ? '10' : datum.value == 100 ? '10²' : '10³'","title":"pressure (hPa)","titleX":-38,"titleY":93,"titleAngle":270,"titleAlign":"center","titleBaseline":"middle"}},
    "color":{"field":"m","type":"nominal","title":null},
    "order":{"field":"p","type":"quantitative"}}},
  {"mark":{"type":"line","strokeDash":[4,3],"strokeWidth":1.2,"clip":true},
   "encoding":{
    "x":{"field":"h","type":"quantitative","scale":{"domain":[-0.3,0.3],"nice":false,"zero":false},"axis":{"orient":"top","values":[-0.3,-0.2,-0.1,0,0.1,0.2,0.3],"tickSize":-5,"labels":false,"title":"down","titleFontSize":9,"titleX":89,"titleY":234,"titleAlign":"left","titleBaseline":"alphabetic"}},
    "y":{"field":"p","type":"quantitative","scale":{"type":"log","domain":[0.11,1100],"reverse":true,"nice":false},"axis":{"orient":"right","values":[1,10,100,1000],"tickSize":-5,"labels":false,"title":"(W m⁻²)","titleAngle":0,"titleX":-110,"titleY":230,"titleAlign":"left","titleBaseline":"alphabetic"}},
    "color":{"field":"m","type":"nominal","title":null},
    "order":{"field":"p","type":"quantitative"}}},
  {"mark":{"type":"line","strokeWidth":2,"clip":true},
   "encoding":{
    "x":{"field":"u","type":"quantitative","scale":{"domain":[-0.3,0.3],"nice":false,"zero":false},"axis":{"orient":"bottom","values":[-0.28,-0.26,-0.24,-0.22,-0.18,-0.16,-0.14,-0.12,-0.08,-0.06,-0.04,-0.02,0.02,0.04,0.06,0.08,0.12,0.14,0.16,0.18,0.22,0.24,0.26,0.28],"tickSize":-2.5,"labels":false,"title":null}},
    "y":{"field":"p","type":"quantitative","scale":{"type":"log","domain":[0.11,1100],"reverse":true,"nice":false},"axis":{"orient":"left","values":[0.2,0.3,0.4,0.5,0.6,0.7,0.8,0.9,2,3,4,5,6,7,8,9,20,30,40,50,60,70,80,90,200,300,400,500,600,700,800,900],"tickSize":-2.5,"labels":false,"title":null}},
    "color":{"field":"m","type":"nominal","title":null},
    "order":{"field":"p","type":"quantitative"}}},
  {"mark":{"type":"point","opacity":0,"clip":true},
   "encoding":{
    "x":{"field":"u","type":"quantitative","scale":{"domain":[-0.3,0.3],"nice":false,"zero":false},"axis":{"orient":"top","values":[-0.28,-0.26,-0.24,-0.22,-0.18,-0.16,-0.14,-0.12,-0.08,-0.06,-0.04,-0.02,0.02,0.04,0.06,0.08,0.12,0.14,0.16,0.18,0.22,0.24,0.26,0.28],"tickSize":-2.5,"labels":false,"title":null}},
    "y":{"field":"p","type":"quantitative","scale":{"type":"log","domain":[0.11,1100],"reverse":true,"nice":false},"axis":{"orient":"right","values":[0.2,0.3,0.4,0.5,0.6,0.7,0.8,0.9,2,3,4,5,6,7,8,9,20,30,40,50,60,70,80,90,200,300,400,500,600,700,800,900],"tickSize":-2.5,"labels":false,"title":null}}}}
 ],
 "resolve":{"axis":{"x":"independent","y":"independent"}}},
{"width":222,"height":186,"data":{"name":"e"},
 "title":{"text":"(e)","anchor":"start","frame":"group","dx":-6,"offset":-3,"baseline":"alphabetic","fontSize":18,"fontStyle":"italic","fontWeight":"normal","font":"Liberation Serif","color":"#111"},
 "layer":[
  {"mark":{"type":"line","strokeDash":[4,3],"strokeWidth":1.2,"clip":true},
   "encoding":{
    "x":{"field":"l","type":"quantitative","scale":{"domain":[-0.05,0.05],"nice":false,"zero":false},"axis":{"orient":"bottom","values":[-0.04,-0.02,0,0.02,0.04],"tickSize":-5,"labelPadding":14,"labelExpr":"datum.value == 0 ? '0' : format(datum.value, '.2f')","title":"SW","titleX":76,"titleY":44,"titleAlign":"left","titleBaseline":"alphabetic"}},
    "y":{"field":"p","type":"quantitative","scale":{"type":"log","domain":[0.11,1100],"reverse":true,"nice":false},"axis":{"orient":"left","values":[1,10,100,1000],"tickSize":-5,"labels":false,"title":null}},
    "color":{"field":"m","type":"nominal","title":null},
    "order":{"field":"p","type":"quantitative"}}},
  {"mark":{"type":"line","strokeDash":[4,3],"strokeWidth":1.2,"clip":true},
   "encoding":{
    "x":{"field":"h","type":"quantitative","scale":{"domain":[-0.05,0.05],"nice":false,"zero":false},"axis":{"orient":"top","values":[-0.04,-0.02,0,0.02,0.04],"tickSize":-5,"labels":false,"title":"up","titleFontSize":9,"titleX":95.5,"titleY":234,"titleAlign":"left","titleBaseline":"alphabetic"}},
    "y":{"field":"p","type":"quantitative","scale":{"type":"log","domain":[0.11,1100],"reverse":true,"nice":false},"axis":{"orient":"right","values":[1,10,100,1000],"tickSize":-5,"labels":false,"title":"(W m⁻²)","titleAngle":0,"titleX":-114,"titleY":230,"titleAlign":"left","titleBaseline":"alphabetic"}},
    "color":{"field":"m","type":"nominal","title":null},
    "order":{"field":"p","type":"quantitative"}}},
  {"mark":{"type":"line","strokeWidth":2,"clip":true},
   "encoding":{
    "x":{"field":"u","type":"quantitative","scale":{"domain":[-0.05,0.05],"nice":false,"zero":false},"axis":{"orient":"bottom","values":[-0.045,-0.035,-0.03,-0.025,-0.015,-0.01,-0.005,0.005,0.01,0.015,0.025,0.03,0.035,0.045],"tickSize":-2.5,"labels":false,"title":null}},
    "y":{"field":"p","type":"quantitative","scale":{"type":"log","domain":[0.11,1100],"reverse":true,"nice":false},"axis":{"orient":"left","values":[0.2,0.3,0.4,0.5,0.6,0.7,0.8,0.9,2,3,4,5,6,7,8,9,20,30,40,50,60,70,80,90,200,300,400,500,600,700,800,900],"tickSize":-2.5,"labels":false,"title":null}},
    "color":{"field":"m","type":"nominal","title":null},
    "order":{"field":"p","type":"quantitative"}}},
  {"mark":{"type":"point","opacity":0,"clip":true},
   "encoding":{
    "x":{"field":"u","type":"quantitative","scale":{"domain":[-0.05,0.05],"nice":false,"zero":false},"axis":{"orient":"top","values":[-0.045,-0.035,-0.03,-0.025,-0.015,-0.01,-0.005,0.005,0.01,0.015,0.025,0.03,0.035,0.045],"tickSize":-2.5,"labels":false,"title":null}},
    "y":{"field":"p","type":"quantitative","scale":{"type":"log","domain":[0.11,1100],"reverse":true,"nice":false},"axis":{"orient":"right","values":[0.2,0.3,0.4,0.5,0.6,0.7,0.8,0.9,2,3,4,5,6,7,8,9,20,30,40,50,60,70,80,90,200,300,400,500,600,700,800,900],"tickSize":-2.5,"labels":false,"title":null}}}}
 ],
 "resolve":{"axis":{"x":"independent","y":"independent"}}},
{"width":222,"height":186,"data":{"name":"f"},
 "title":{"text":"(f)","anchor":"start","frame":"group","dx":-5,"offset":-3,"baseline":"alphabetic","fontSize":18,"fontStyle":"italic","fontWeight":"normal","font":"Liberation Serif","color":"#111"},
 "layer":[
  {"mark":{"type":"line","strokeDash":[4,3],"strokeWidth":1.2,"clip":true},
   "encoding":{
    "x":{"field":"l","type":"quantitative","scale":{"domain":[-0.4,0.4],"nice":false,"zero":false},"axis":{"orient":"bottom","values":[-0.4,-0.3,-0.2,-0.1,0,0.1,0.2,0.3],"tickSize":-5,"labelPadding":14,"labelExpr":"datum.value == 0 ? '0' : format(datum.value, '.1f')","title":"SW","titleX":73,"titleY":44,"titleAlign":"left","titleBaseline":"alphabetic"}},
    "y":{"field":"p","type":"quantitative","scale":{"type":"log","domain":[0.11,1100],"reverse":true,"nice":false},"axis":{"orient":"left","values":[1,10,100,1000],"tickSize":-5,"labels":false,"title":null}},
    "color":{"field":"m","type":"nominal","title":null},
    "order":{"field":"p","type":"quantitative"}}},
  {"mark":{"type":"line","strokeDash":[4,3],"strokeWidth":1.2,"clip":true},
   "encoding":{
    "x":{"field":"h","type":"quantitative","scale":{"domain":[-0.4,0.4],"nice":false,"zero":false},"axis":{"orient":"top","values":[-0.4,-0.3,-0.2,-0.1,0,0.1,0.2,0.3,0.4],"tickSize":-5,"labels":false,"title":["dT","dt"],"titleFontSize":7,"titleLineHeight":7,"titleX":97.5,"titleY":229,"titleAlign":"center","titleBaseline":"alphabetic"}},
    "y":{"field":"p","type":"quantitative","scale":{"type":"log","domain":[0.11,1100],"reverse":true,"nice":false},"axis":{"orient":"right","values":[1,10,100,1000],"tickSize":-5,"labels":false,"title":"(K d⁻¹)","titleAngle":0,"titleX":-115,"titleY":230,"titleAlign":"left","titleBaseline":"alphabetic"}},
    "color":{"field":"m","type":"nominal","title":null},
    "order":{"field":"p","type":"quantitative"}}},
  {"mark":{"type":"line","strokeWidth":2,"clip":true},
   "encoding":{
    "x":{"field":"u","type":"quantitative","scale":{"domain":[-0.4,0.4],"nice":false,"zero":false},"axis":{"orient":"bottom","values":[-0.38,-0.36,-0.34,-0.32,-0.28,-0.26,-0.24,-0.22,-0.18,-0.16,-0.14,-0.12,-0.08,-0.06,-0.04,-0.02,0.02,0.04,0.06,0.08,0.12,0.14,0.16,0.18,0.22,0.24,0.26,0.28,0.32,0.34,0.36,0.38],"tickSize":-2.5,"labels":false,"title":null}},
    "y":{"field":"p","type":"quantitative","scale":{"type":"log","domain":[0.11,1100],"reverse":true,"nice":false},"axis":{"orient":"left","values":[0.2,0.3,0.4,0.5,0.6,0.7,0.8,0.9,2,3,4,5,6,7,8,9,20,30,40,50,60,70,80,90,200,300,400,500,600,700,800,900],"tickSize":-2.5,"labels":false,"title":null}},
    "color":{"field":"m","type":"nominal","title":null},
    "order":{"field":"p","type":"quantitative"}}},
  {"mark":{"type":"point","opacity":0,"clip":true},
   "encoding":{
    "x":{"field":"u","type":"quantitative","scale":{"domain":[-0.4,0.4],"nice":false,"zero":false},"axis":{"orient":"top","values":[-0.38,-0.36,-0.34,-0.32,-0.28,-0.26,-0.24,-0.22,-0.18,-0.16,-0.14,-0.12,-0.08,-0.06,-0.04,-0.02,0.02,0.04,0.06,0.08,0.12,0.14,0.16,0.18,0.22,0.24,0.26,0.28,0.32,0.34,0.36,0.38],"tickSize":-2.5,"labels":false,"title":null}},
    "y":{"field":"p","type":"quantitative","scale":{"type":"log","domain":[0.11,1100],"reverse":true,"nice":false},"axis":{"orient":"right","values":[0.2,0.3,0.4,0.5,0.6,0.7,0.8,0.9,2,3,4,5,6,7,8,9,20,30,40,50,60,70,80,90,200,300,400,500,600,700,800,900],"tickSize":-2.5,"labels":false,"title":null}}}}
 ],
 "resolve":{"axis":{"x":"independent","y":"independent"}}}
]
}
